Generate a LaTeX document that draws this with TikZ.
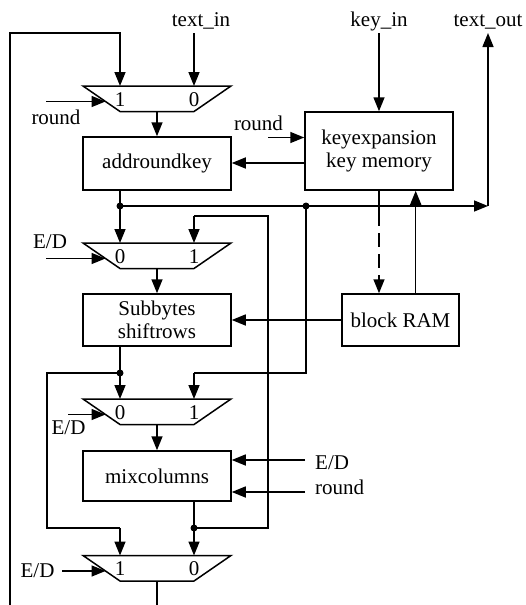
\documentclass[tikz,border=0pt]{standalone}
\usepackage{fontspec}
\setmainfont{Liberation Serif}
\usetikzlibrary{arrows.meta}
\tikzset{
  wire/.style={line width=1.5pt},
  arr/.style={wire,-{Triangle[length=14pt,width=11pt]}},
  blk/.style={draw,line width=1.5pt,minimum width=148pt,inner sep=0pt,align=center},
  lbl/.style={inner sep=0pt,anchor=base},
  dot/.style={circle,fill,inner sep=0pt,minimum size=7pt},
}
\newcommand{\drawmux}[4]{%
  \draw[wire] (83,#2) -- (231,#2) -- (194,#2+25.5) -- (120,#2+25.5) -- cycle;
  \coordinate (#1-a) at (120,#2);
  \coordinate (#1-b) at (194,#2);
  \coordinate (#1-o) at (157,#2+25.5);
  \coordinate (#1-s) at (105.5,#2+15.5);
  \node[lbl] (#1-la) at (120,#2+20) {#3};
  \node[lbl] (#1-lb) at (194,#2+20) {#4};
}
\begin{document}
\begin{tikzpicture}[x=1pt,y=-1pt,font=\fontsize{21}{23}\selectfont]
\useasboundingbox (0,0) rectangle (525,605);
% muxes
\drawmux{ma}{86}{1}{0}
\drawmux{mb}{243}{0}{1}
\drawmux{mc}{399}{0}{1}
\drawmux{md}{555.5}{1}{0}
% blocks
\node[blk,minimum height=53pt] (ark) at (157,163.5) {addroundkey};
\node[blk,minimum height=78pt] (kx) at (379,151) {keyexpansion\\key memory};
\node[blk,minimum height=52pt] (sb) at (157,320) {Subbytes\\shiftrows};
\node[blk,minimum height=52pt,minimum width=117pt] (br) at (400.5,320) {block RAM};
\node[blk,minimum height=50pt] (mix) at (157,476) {mixcolumns};
% labels
\node[lbl] (tin) at (201,27) {text\_in};
\node[lbl] (kin) at (379,26) {key\_in};
\node[lbl] (tout) at (488,26) {text\_out};
\node[lbl] (r1) at (56,124) {round};
\node[lbl] (r2) at (258.5,130) {round};
\node[lbl] (ed2) at (50,248) {E/D};
\node[lbl] (ed3) at (68.5,434) {E/D};
\node[lbl,anchor=base west] (edm) at (315,469) {E/D};
\node[lbl,anchor=base west] (rm) at (315,494) {round};
\node[lbl] (ed4) at (37.5,577) {E/D};
% coordinates
\coordinate (fbB) at (10,605);
\coordinate (fbT) at (10,33);
\coordinate (outB) at (157,605);
\coordinate (tinS) at (194,33);
\coordinate (kinS) at (379,33);
\coordinate (j1) at (120,206);
\coordinate (j2) at (306,206);
\coordinate (corner) at (488,206);
\coordinate (toutS) at (488,33);
\coordinate (j3) at (120,373);
\coordinate (j4) at (194,528);
\coordinate (dsh) at (379,212);
\coordinate (rin) at (46,101.5);
% feedback and output
\draw[arr] (fbB) -- (fbT) -| (ma-a);
\draw[wire] (md-o) -- (outB);
\draw[arr] (tinS) -- (ma-b);
\draw[arr] (rin) -- (ma-s);
\draw[arr] (ma-o) -- (ark.north);
\draw[arr] (kinS) -- (kx.north);
\draw[arr] (268,137.5) -- (kx.west |- 0,137.5);
\draw[arr] (kx.west |- 0,163) -- (ark.east |- 0,163);
% bus
\draw[arr] (ark.south -| j1) -- (mb-a);
\draw[arr] (j1) -- (corner);
\draw[arr] (corner) -- (toutS);
\draw[wire] (j2) -- (306,373) -- (194,373);
\draw[arr] (194,373) -- (mc-b);
% key memory / block RAM
\draw[wire] (kx.south -| dsh) -- (dsh);
\draw[arr,dash pattern=on 14pt off 7pt] (dsh) -- (br.north -| dsh);
\draw[arr] (br.north -| 415.7,0) -- (kx.south -| 415.7,0);
\draw[arr] (br.west) -- (sb.east |- br.west);
% mux b
\draw[arr] (46,258.5) -- (mb-s);
\draw[arr] (mb-o) -- (sb.north);
% mux c
\draw[arr] (sb.south -| j3) -- (mc-a);
\draw[wire] (j3) -- (47,373) -- (47,528) -- (120,528);
\draw[arr] (120,528) -- (md-a);
\draw[arr] (68,414.5) -- (mc-s);
\draw[arr] (mc-o) -- (mix.north);
\draw[arr] (305,460) -- (mix.east |- 0,460);
\draw[arr] (305,492) -- (mix.east |- 0,492);
% mux d
\draw[arr] (mix.south -| j4) -- (md-b);
\draw[wire] (j4) -- (268,528) -- (268,216) -- (194,216);
\draw[arr] (194,216) -- (mb-b);
\draw[arr] (62,571) -- (md-s);
% dots
\node[dot] (d1) at (j1) {};
\node[dot] (d2) at (j2) {};
\node[dot] (d3) at (j3) {};
\node[dot] (d4) at (j4) {};
\end{tikzpicture}
\end{document}
